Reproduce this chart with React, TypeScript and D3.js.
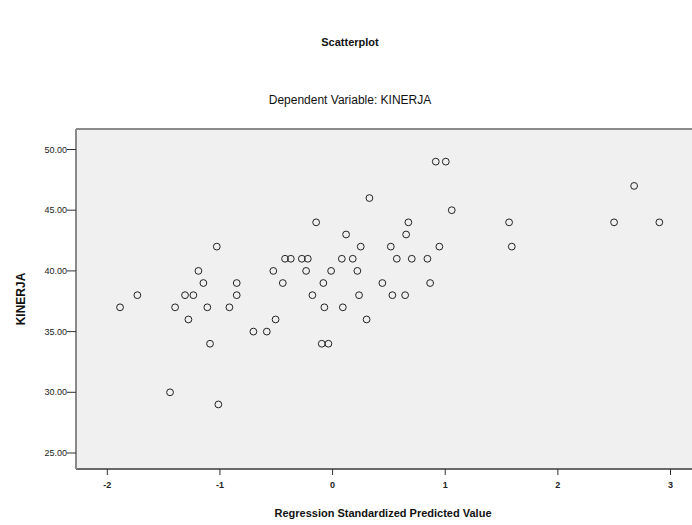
import React from "react";
import * as d3 from "d3";

const xTicks = [-2, -1, 0, 1, 2, 3];
const yTicks = [25, 30, 35, 40, 45, 50];

// Regression standardized predicted value (x) and KINERJA (y)
const predicted = [
  -1.887, -1.398, -1.112, -0.916, -0.073, 0.091,
  -1.733, -1.31, -1.236, -0.851, -0.179, 0.235, 0.531, 0.644,
  -1.147, -0.851, -0.442, -0.082, 0.442, 0.866,
  -1.191, -0.526, -0.235, -0.013, 0.22,
  -0.422, -0.371, -0.273, -0.22, 0.082, 0.179, 0.57, 0.703, 0.842,
  -1.028, 0.25, 0.517, 0.948, 1.591,
  0.12, 0.653,
  -0.146, 0.673, 1.567, 2.499, 2.901,
  1.058,
  0.327,
  2.677,
  0.916, 1.005,
  -1.28, -0.506, 0.302,
  -0.703, -0.584,
  -1.088, -0.096, -0.037,
  -1.443,
  -1.014,
];
const kinerja = [
  37, 37, 37, 37, 37, 37,
  38, 38, 38, 38, 38, 38, 38, 38,
  39, 39, 39, 39, 39, 39,
  40, 40, 40, 40, 40,
  41, 41, 41, 41, 41, 41, 41, 41, 41,
  42, 42, 42, 42, 42,
  43, 43,
  44, 44, 44, 44, 44,
  45,
  46,
  47,
  49, 49,
  36, 36, 36,
  35, 35,
  34, 34, 34,
  30,
  29,
];

const W = 692;
const H = 525;
const plot = { left: 76, right: 704, top: 129, bottom: 469 };

const x = d3.scaleLinear().domain([-2, 3]).range([107.3, 670.5]);
const y = d3.scaleLinear().domain([25, 50]).range([453, 149.5]);

const font = "'Liberation Sans', Arial, sans-serif";

export default function App() {
  const pts = predicted.map((v, i) => ({ v, k: kinerja[i] }));
  return (
    <svg
      width={W}
      height={H}
      style={{ position: "absolute", left: 0, top: 0, background: "#fff" }}
      fontFamily={font}
    >
      <text x={350} y={46} textAnchor="middle" fontSize={11} fontWeight="bold" fill="#111">
        Scatterplot
      </text>
      <text x={350} y={104} textAnchor="middle" fontSize={12} fill="#111">
        Dependent Variable: KINERJA
      </text>
      <rect
        x={plot.left}
        y={plot.top}
        width={plot.right - plot.left}
        height={plot.bottom - plot.top}
        fill="#f0f0f0"
      />
      <line x1={plot.left} x2={plot.right} y1={plot.top} y2={plot.top} stroke="#8a8a8a" strokeWidth={2} />
      <line x1={plot.left} x2={plot.right} y1={plot.bottom} y2={plot.bottom} stroke="#6a6a6a" strokeWidth={2} />
      <line x1={plot.left} x2={plot.left} y1={plot.top} y2={plot.bottom} stroke="#8a8a8a" strokeWidth={2} />
      {yTicks.map((t) => (
        <g key={t}>
          <line x1={plot.left - 9} x2={plot.left} y1={y(t)} y2={y(t)} stroke="#333" strokeWidth={1} />
          <text x={plot.left - 9} y={y(t) + 3} textAnchor="end" fontSize={9} fill="#222">
            {t.toFixed(2)}
          </text>
        </g>
      ))}
      {xTicks.map((t) => (
        <g key={t}>
          <line x1={x(t)} x2={x(t)} y1={plot.bottom} y2={plot.bottom + 6} stroke="#333" strokeWidth={1} />
          <text x={x(t)} y={plot.bottom + 19} textAnchor="middle" fontSize={9} fontWeight="bold" fill="#222">
            {t}
          </text>
        </g>
      ))}
      <text
        transform={`translate(25,${(plot.top + plot.bottom) / 2}) rotate(-90)`}
        textAnchor="middle"
        fontSize={12}
        fontWeight="bold"
        fill="#111"
      >
        KINERJA
      </text>
      <text x={383} y={517} textAnchor="middle" fontSize={11} fontWeight="bold" fill="#111">
        Regression Standardized Predicted Value
      </text>
      {pts.map((p, i) => (
        <circle key={i} cx={x(p.v)} cy={y(p.k)} r={3.4} fill="none" stroke="#222" strokeWidth={1} />
      ))}
    </svg>
  );
}
